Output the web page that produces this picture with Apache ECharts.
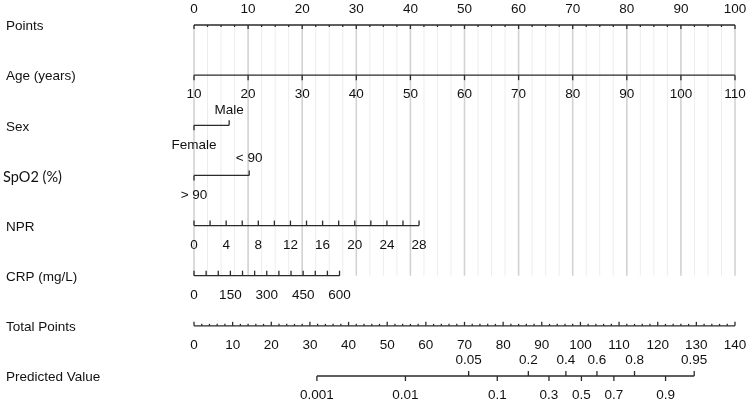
<!DOCTYPE html>
<html>
<head>
<meta charset="utf-8">
<script src="https://cdn.jsdelivr.net/npm/echarts@6/dist/echarts.min.js"></script>
<style>
html,body{margin:0;padding:0;background:#fff;}
#chart{width:749px;height:404px;}
</style>
</head>
<body>
<div id="chart"></div>
<script>
// ---------- data ----------
const rowNames = ['Points', 'Age (years)', 'Sex', 'SpO2 (%)', 'NPR', 'CRP (mg/L)', 'Total Points', 'Predicted Value'];

const pointsTicks = [0, 10, 20, 30, 40, 50, 60, 70, 80, 90, 100];
const pointsMinorTicks = [2.5, 5, 7.5, 12.5, 15, 17.5, 22.5, 25, 27.5, 32.5, 35, 37.5, 42.5, 45, 47.5, 52.5, 55, 57.5, 62.5, 65, 67.5, 72.5, 75, 77.5, 82.5, 85, 87.5, 92.5, 95, 97.5];

const ageTicks = [10, 20, 30, 40, 50, 60, 70, 80, 90, 100, 110];
const ageRange = [10, 110];          // maps to points 0..100
const agePointsRange = [0, 100];

const sexLevels = ['Female', 'Male'];
const sexPoints = [0, 6.5];

const spo2Levels = ['> 90', '< 90'];
const spo2Points = [0, 10.2];

const nprTicks = [0, 2, 4, 6, 8, 10, 12, 14, 16, 18, 20, 22, 24, 26, 28];
const nprLabels = [0, 4, 8, 12, 16, 20, 24, 28];
const nprRange = [0, 28];
const nprPointsRange = [0, 41.6];

const crpTicks = [0, 50, 100, 150, 200, 250, 300, 350, 400, 450, 500, 550, 600];
const crpLabels = [0, 150, 300, 450, 600];
const crpRange = [0, 600];
const crpPointsRange = [0, 26.9];

const totalTicks = [0, 10, 20, 30, 40, 50, 60, 70, 80, 90, 100, 110, 120, 130, 140];
const totalMinorTicks = [2, 4, 6, 8, 12, 14, 16, 18, 22, 24, 26, 28, 32, 34, 36, 38, 42, 44, 46, 48, 52, 54, 56, 58, 62, 64, 66, 68, 72, 74, 76, 78, 82, 84, 86, 88, 92, 94, 96, 98, 102, 104, 106, 108, 112, 114, 116, 118, 122, 124, 126, 128, 132, 134, 136, 138];
const totalMax = 140;                // total points 0..140 span the points axis 0..100

const predictedUpper = [0.05, 0.2, 0.4, 0.6, 0.8, 0.95];
const predictedLower = [0.001, 0.01, 0.1, 0.3, 0.5, 0.7, 0.9];
const logitIntercept = -10.116;      // logit(p) = intercept + slope * totalPoints
const logitSlope = 0.1009;

// ---------- scale helpers ----------
function lin(v, r, p) { return p[0] + (v - r[0]) * (p[1] - p[0]) / (r[1] - r[0]); }
const ageToPts = v => lin(v, ageRange, agePointsRange);
const nprToPts = v => lin(v, nprRange, nprPointsRange);
const crpToPts = v => lin(v, crpRange, crpPointsRange);
const totToPts = t => t * 100 / totalMax;
const probToPts = p => totToPts((Math.log(p / (1 - p)) - logitIntercept) / logitSlope);

// ---------- build marks ----------
const ABOVE = -16, BELOW = 19.5;
const tickData = [], tickLabels = [];
function tick(pos, row, dir, len, label, off) {
  tickData.push([pos, row, dir, len, off || 0]);
  tickLabels.push(label === undefined || label === null ? '' : String(label));
}
const axisData = [];

// Points
axisData.push([0, 100, 0]);
pointsTicks.forEach(v => tick(v, 0, 1, 4, v, ABOVE));
pointsMinorTicks.forEach(v => tick(v, 0, 1, 2));
// Age
axisData.push([ageToPts(ageRange[0]), ageToPts(ageRange[1]), 1]);
ageTicks.forEach(v => tick(ageToPts(v), 1, 1, 5, v, BELOW));
// Sex
axisData.push([sexPoints[0], sexPoints[1], 2]);
tick(sexPoints[0], 2, 1, 5, sexLevels[0], 20);
tick(sexPoints[1], 2, -1, 5, sexLevels[1], -15.5);
// SpO2
axisData.push([spo2Points[0], spo2Points[1], 3]);
tick(spo2Points[0], 3, 1, 5, spo2Levels[0], 19.5);
tick(spo2Points[1], 3, -1, 5, spo2Levels[1], -17);
// NPR
axisData.push([nprToPts(nprRange[0]), nprToPts(nprRange[1]), 4]);
nprTicks.forEach(v => tick(nprToPts(v), 4, -1, 5, nprLabels.indexOf(v) >= 0 ? v : null, BELOW));
// CRP
axisData.push([crpToPts(crpRange[0]), crpToPts(crpRange[1]), 5]);
crpTicks.forEach(v => tick(crpToPts(v), 5, -1, 5, crpLabels.indexOf(v) >= 0 ? v : null, BELOW));
// Total points
axisData.push([0, totToPts(totalMax), 6]);
totalTicks.forEach(v => tick(totToPts(v), 6, -1, 4, v, BELOW));
totalMinorTicks.forEach(v => tick(totToPts(v), 6, -1, 2));
// Predicted value
const predAll = predictedUpper.concat(predictedLower);
const pmin = Math.min.apply(null, predAll), pmax = Math.max.apply(null, predAll);
axisData.push([probToPts(pmin), probToPts(pmax), 7]);
predictedUpper.forEach(v => tick(probToPts(v), 7, -1, 5, v, ABOVE));
predictedLower.forEach(v => tick(probToPts(v), 7, 1, 5, v, BELOW));

// gridlines: [pos, major]
const gridData = pointsTicks.map(v => [v, 1]).concat(pointsMinorTicks.map(v => [v, 0]));
const gridRows = [0, 5];

const FONT = '13.5px "Liberation Sans", Arial, Helvetica, sans-serif';
const TXT = '#111111';
const LINE = '#2a2a2a';

const chart = echarts.init(document.getElementById('chart'), null, { renderer: 'canvas' });
chart.setOption({
  animation: false,
  backgroundColor: '#ffffff',
  grid: { left: 194, right: 14, top: 25, bottom: 28 },
  xAxis: { type: 'value', min: 0, max: 100, show: false },
  yAxis: { type: 'value', min: 0, max: 7, inverse: true, show: false },
  series: [
    {
      type: 'custom', name: 'grid', z: 1,
      data: gridData,
      renderItem: function (params, api) {
        const a = api.coord([api.value(0), gridRows[0]]);
        const b = api.coord([api.value(0), gridRows[1]]);
        const major = api.value(1) === 1;
        return {
          type: 'line',
          shape: { x1: a[0], y1: a[1], x2: b[0], y2: b[1] },
          style: { stroke: major ? '#d2d2d2' : '#ededed', lineWidth: major ? 1.6 : 1 }
        };
      }
    },
    {
      type: 'custom', name: 'axes', z: 3,
      data: axisData,
      renderItem: function (params, api) {
        const a = api.coord([api.value(0), api.value(2)]);
        const b = api.coord([api.value(1), api.value(2)]);
        return {
          type: 'line',
          shape: { x1: a[0], y1: a[1], x2: b[0], y2: b[1] },
          style: { stroke: LINE, lineWidth: 1.3 }
        };
      }
    },
    {
      type: 'custom', name: 'ticks', z: 4,
      data: tickData,
      renderItem: function (params, api) {
        const p = api.coord([api.value(0), api.value(1)]);
        const dir = api.value(2), len = api.value(3), off = api.value(4);
        const children = [{
          type: 'line',
          shape: { x1: p[0], y1: p[1], x2: p[0], y2: p[1] + dir * len },
          style: { stroke: LINE, lineWidth: 1.3 }
        }];
        const label = tickLabels[params.dataIndex];
        if (label) {
          children.push({
            type: 'text',
            style: { text: label, x: p[0], y: p[1] + off, font: FONT, fill: TXT, align: 'center', verticalAlign: 'middle' }
          });
        }
        return { type: 'group', children: children };
      }
    },
    {
      type: 'custom', name: 'rowNames', z: 5,
      data: rowNames.map((n, i) => [0, i]),
      renderItem: function (params, api) {
        const p = api.coord([0, api.value(1)]);
        const name = rowNames[params.dataIndex];
        const isSpo2 = name === 'SpO2 (%)';
        return {
          type: 'text',
          style: {
            text: name, x: isSpo2 ? 3 : 6, y: p[1] + 1.5,
            font: isSpo2 ? '14.5px Lato, "Open Sans", sans-serif' : FONT,
            fill: TXT, align: 'left', verticalAlign: 'middle'
          }
        };
      }
    }
  ]
});
</script>
</body>
</html>
